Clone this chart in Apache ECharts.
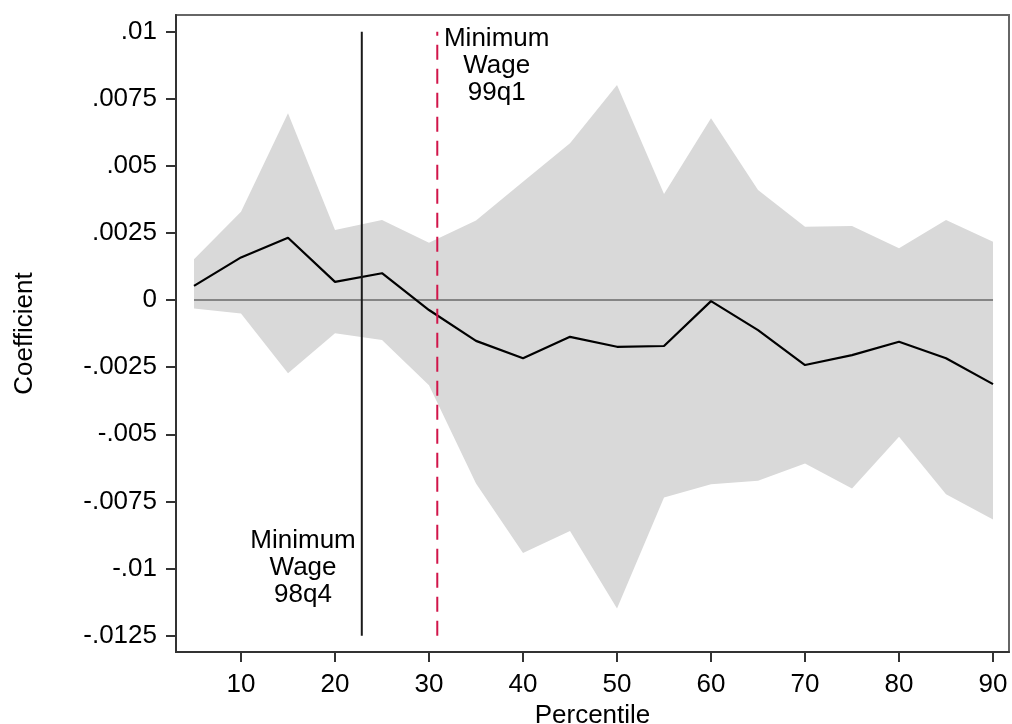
<!DOCTYPE html>
<html>
<head>
<meta charset="utf-8">
<script src="https://cdn.jsdelivr.net/npm/echarts@6/dist/echarts.min.js"></script>
<style>
html,body{margin:0;padding:0;background:#fff;}
#chart{width:1012px;height:724px;}
</style>
</head>
<body>
<div id="chart"></div>
<script>
// Data
const percentiles = [5,10,15,20,25,30,35,40,45,50,55,60,65,70,75,80,85,90];
const coefficient = [0.00053,0.00159,0.00232,0.00068,0.00100,-0.00037,-0.00152,-0.00217,-0.00137,-0.00174,-0.00171,-0.00004,-0.00112,-0.00242,-0.00205,-0.00155,-0.00217,-0.00313];
const upperCI = [0.00152,0.00329,0.00696,0.00261,0.00298,0.00214,0.00296,0.00441,0.00584,0.00801,0.00395,0.00677,0.00410,0.00273,0.00276,0.00193,0.00298,0.00217];
const lowerCI = [-0.00031,-0.00050,-0.00273,-0.00124,-0.00149,-0.00317,-0.00683,-0.00942,-0.00860,-0.01149,-0.00735,-0.00686,-0.00673,-0.00609,-0.00702,-0.00509,-0.00723,-0.00817];

const xTicks = [10,20,30,40,50,60,70,80,90];
const yTicks = [-0.0125,-0.01,-0.0075,-0.005,-0.0025,0,0.0025,0.005,0.0075,0.01];
const yTickLabels = ['-.0125','-.01','-.0075','-.005','-.0025','0','.0025','.005','.0075','.01'];

const minWage98q4X = 22.85;
const minWage99q1X = 30.88;
const vLineRange = [-0.0125, 0.01];
const zeroLineX = [5, 90];
const annotationTexts = ['Minimum\nWage\n98q4', 'Minimum\nWage\n99q1'];
const annotationX = [16.6, 37.2];
const annotationY = [-0.00998, 0.00872];

const FONT = '"Liberation Sans", Arial, sans-serif';
const FS = 26;
const chart = echarts.init(document.getElementById('chart'), null, {renderer: 'canvas'});

const bandPoly = [];
percentiles.forEach((p, i) => bandPoly.push([p, upperCI[i]]));
for (let i = percentiles.length - 1; i >= 0; i--) bandPoly.push([percentiles[i], lowerCI[i]]);

chart.setOption({
  animation: false,
  backgroundColor: '#fff',
  grid: {left: 176, top: 15, right: 3, bottom: 72, show: true, borderColor: '#666', borderWidth: 2,
    backgroundColor: '#fff', containLabel: false, outerBoundsMode: 'none'},
  xAxis: {
    type: 'value', min: 3.085, max: 91.7,
    name: 'Percentile', nameLocation: 'middle', nameGap: 42,
    nameTextStyle: {fontFamily: FONT, fontSize: FS, color: '#000'},
    axisLine: {show: true, onZero: false, lineStyle: {color: '#333', width: 2}},
    axisTick: {show: true, length: 10, lineStyle: {color: '#333', width: 2}, customValues: xTicks},
    axisLabel: {fontFamily: FONT, fontSize: FS, color: '#000', margin: 20, customValues: xTicks},
    splitLine: {show: false}
  },
  yAxis: {
    type: 'value', min: -0.01311, max: 0.01062,
    name: 'Coefficient', nameLocation: 'middle', nameGap: 138,
    nameTextStyle: {fontFamily: FONT, fontSize: FS, color: '#000'},
    axisLine: {show: true, onZero: false, lineStyle: {color: '#333', width: 2}},
    axisTick: {show: true, length: 10, lineStyle: {color: '#333', width: 2}, customValues: yTicks},
    axisLabel: {fontFamily: FONT, fontSize: FS, color: '#000', margin: 19, customValues: yTicks,
      formatter: function (v) {
        let best = 0, bd = Infinity;
        yTicks.forEach((t, i) => { const d = Math.abs(t - v); if (d < bd) { bd = d; best = i; } });
        return yTickLabels[best];
      }},
    splitLine: {show: false}
  },
  series: [
    {
      type: 'custom', silent: true, z: 1,
      data: [0],
      renderItem: function (params, api) {
        const pts = bandPoly.map(p => api.coord(p));
        return {type: 'polygon', shape: {points: pts}, style: {fill: '#d9d9d9', stroke: null}};
      }
    },
    {
      type: 'line', z: 2, symbol: 'none', silent: true,
      data: [[zeroLineX[0], 0], [zeroLineX[1], 0]],
      lineStyle: {color: '#858585', width: 2}
    },
    {
      type: 'line', z: 3, symbol: 'none', silent: true,
      data: percentiles.map((p, i) => [p, coefficient[i]]),
      lineStyle: {color: '#000', width: 2.2}
    },
    {
      type: 'line', z: 4, symbol: 'none', silent: true,
      data: [[minWage98q4X, vLineRange[0]], [minWage98q4X, vLineRange[1]]],
      lineStyle: {color: '#1a1a1a', width: 2}
    },
    {
      type: 'line', z: 4, symbol: 'none', silent: true,
      data: [[minWage99q1X, vLineRange[0]], [minWage99q1X, vLineRange[1]]],
      lineStyle: {color: '#d1154a', width: 2, type: [15, 9]}
    },
    {
      type: 'custom', silent: true, z: 5,
      data: annotationX.map((x, i) => [x, annotationY[i], i]),
      renderItem: function (params, api) {
        const i = api.value(2);
        const pt = api.coord([api.value(0), api.value(1)]);
        return {
          type: 'text', x: pt[0], y: pt[1],
          style: {text: annotationTexts[i], fill: '#000', font: FS + 'px ' + FONT,
            align: 'center', verticalAlign: 'middle', lineHeight: 27}
        };
      }
    }
  ]
});
</script>
</body>
</html>
